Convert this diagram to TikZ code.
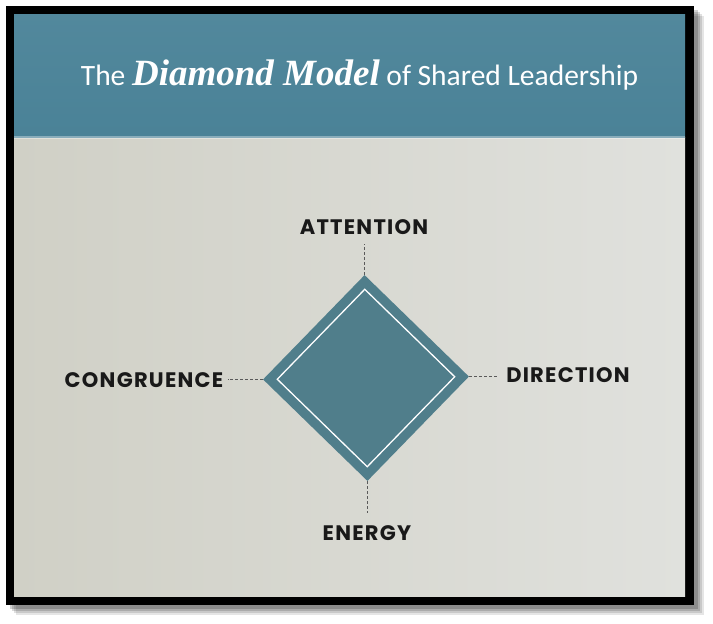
\documentclass[tikz,border=0pt]{standalone}
\usepackage{fontspec}
\usetikzlibrary{shapes.geometric}
\newfontfamily\titlefont{Carlito}
\newfontfamily\brushfont{Liberation Serif}
\newfontfamily\labelfont{Poppins}[LetterSpace=6]
\definecolor{teal}{HTML}{4A8297}
\definecolor{teallight}{HTML}{7FAABA}
\definecolor{diafill}{HTML}{507E8B}
\definecolor{pagea}{HTML}{D0D0C6}
\definecolor{pageb}{HTML}{E0E1DD}
\definecolor{dashgray}{HTML}{5A5A5A}
\tikzset{
  lbl/.style={font=\labelfont\bfseries\fontsize{21}{21}\selectfont, text=black!90, inner sep=0pt},
  conn/.style={draw=dashgray, line width=0.8pt, dash pattern=on 3pt off 2pt},
}
\begin{document}
\begin{tikzpicture}[x=1pt,y=-1pt]
\useasboundingbox (0,0) rectangle (713,624);
\fill[white] (0,0) rectangle (713,624);
% soft shadow
\foreach \d/\o in {10/0.10,8/0.12,6/0.15,4/0.18}{
  \fill[black,opacity=\o] (6+\d,6+\d) rectangle (694+\d,605+\d);
}
% black frame
\fill[black] (6,6) rectangle (694,605);
% page
\shade[left color=pagea, right color=pageb] (14,137) rectangle (685,596);
% header
\shade[top color=teal!85!teallight, bottom color=teal] (14,14) rectangle (685,137);
\fill[white,opacity=0.35] (14,136) rectangle (685,139);
% title
\node[anchor=base, text=white, inner sep=0pt] (title) at (359.5,85)
  {\titlefont\fontsize{29.5}{30}\selectfont The {\brushfont\bfseries\itshape\fontsize{37}{37}\selectfont Diamond Model} of Shared Leadership};
% diamond
\node[diamond, aspect=1, rotate=0.8, minimum width=206pt, minimum height=206pt, inner sep=0pt, fill=diafill] (dia) at (366,378) {};
\node[diamond, aspect=1, rotate=0.8, minimum width=178pt, minimum height=178pt, inner sep=0pt, draw=white, line width=1.3pt] (inner) at (366,378) {};
% labels
\node[lbl] (att) at (364,227) {ATTENTION};
\node[lbl] (cong) at (144,380.5) {CONGRUENCE};
\node[lbl] (dir) at (568,375.5) {DIRECTION};
\node[lbl] (ene) at (367,533) {ENERGY};
% connectors
\draw[conn] (dia.north) -- ([yshift=-9pt]dia.north |- att.south);
\draw[conn] (dia.south) -- ([yshift=12pt]dia.south |- ene.north);
\draw[conn] (dia.west) -- ([xshift=4pt]dia.west -| cong.east);
\draw[conn] (dia.east) -- ([xshift=-8pt]dia.east -| dir.west);
\end{tikzpicture}
\end{document}
